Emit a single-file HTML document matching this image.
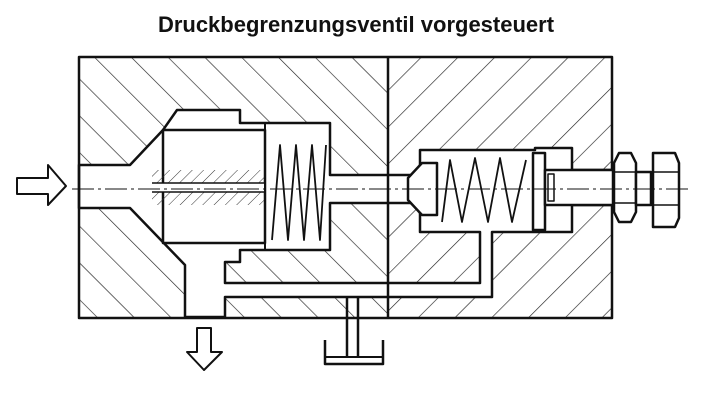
<!DOCTYPE html>
<html><head><meta charset="utf-8"><style>
body{margin:0;background:#fff;width:712px;height:404px;overflow:hidden}
.t{position:absolute;left:0;top:12px;width:712px;text-align:center;font:bold 22px "Liberation Sans",sans-serif;color:#111}
</style></head><body>
<div class="t">Druckbegrenzungsventil vorgesteuert</div>
<svg width="712" height="404" style="position:absolute;left:0;top:0">
<defs>
<pattern id="hl" width="26" height="26" patternUnits="userSpaceOnUse" patternTransform="rotate(-45)"><line x1="0" y1="0" x2="0" y2="26" stroke="#222" stroke-width="1.3"/></pattern>
<pattern id="hr" width="26" height="26" patternUnits="userSpaceOnUse" patternTransform="rotate(45)"><line x1="0" y1="0" x2="0" y2="26" stroke="#222" stroke-width="1.3"/></pattern>
<pattern id="hs" width="8" height="8" patternUnits="userSpaceOnUse" patternTransform="rotate(45)"><line x1="0" y1="0" x2="0" y2="8" stroke="#333" stroke-width="1"/></pattern>
</defs>
<g stroke="#111" stroke-width="2.5" fill="none" stroke-linejoin="round">
<rect x="79" y="57" width="309" height="260" fill="url(#hl)" stroke="none"/>
<rect x="388" y="57" width="224" height="261" fill="url(#hr)" stroke="none"/>
<path d="M79,165 L130,165 L163,130 L177,110 L240,110 L240,123 L330,123 L330,175 L412,175 L412,203 L330,203 L330,250 L240,250 L240,262 L225,262 L225,283 L480,283 L480,232 L420,232 L420,150 L535,150 L535,148 L572,148 L572,170 L612,170 L612,205 L572,205 L572,232 L492,232 L492,297 L225,297 L225,317 L185,317 L185,265 L130,208 L79,208 Z" fill="#fff"/>
<rect x="79" y="57" width="533" height="261"/>
<line x1="388" y1="57" x2="388" y2="318"/>
<rect x="163" y="130" width="102" height="113" fill="#fff"/>
<rect x="152" y="170" width="113" height="35" fill="url(#hs)" stroke="none"/>
<rect x="150" y="183" width="116" height="9" fill="#fff" stroke="none"/>
<line x1="152" y1="183" x2="265" y2="183" stroke-width="1.5"/>
<line x1="152" y1="192" x2="265" y2="192" stroke-width="1.5"/>
<line x1="265" y1="123" x2="265" y2="250" stroke-width="2"/>
<path d="M272,240 L280,145 L288,240 L296,145 L304,240 L312,145 L320,240 L326,145" stroke-width="1.8"/>
<path d="M442,222 L450,160 L462,222 L475,158 L488,222 L500,158 L512,222 L526,160" stroke-width="1.8"/>
<path d="M408,178 L422,163 L437,163 L437,215 L422,215 L408,200 Z" fill="#fff"/>
<rect x="533" y="153" width="12" height="77" fill="#fff"/>
<rect x="545" y="170" width="68" height="35" fill="#fff"/>
<rect x="548" y="174" width="6" height="27" stroke-width="1.5"/>
<path d="M619,153 L631,153 L636,163 L636,212 L631,222 L619,222 L614,212 L614,163 Z" fill="#fff"/>
<line x1="614" y1="172" x2="636" y2="172" stroke-width="1.5"/><line x1="614" y1="203" x2="636" y2="203" stroke-width="1.5"/>
<rect x="636" y="172" width="15" height="33" fill="#fff"/>
<path d="M653,153 L675,153 L679,163 L679,218 L675,227 L653,227 Z" fill="#fff"/>
<line x1="653" y1="172" x2="679" y2="172" stroke-width="1.5"/><line x1="653" y1="205" x2="679" y2="205" stroke-width="1.5"/>
<line x1="347" y1="298" x2="347" y2="356"/><line x1="358" y1="298" x2="358" y2="356"/>
<path d="M325,340 L325,364 L383,364 L383,340"/>
<path d="M326,357 L382,357" stroke-width="2"/>
<path d="M17,178 L48,178 L48,165 L66,186 L48,205 L48,194 L17,194 Z" fill="#fff" stroke-width="2"/>
<path d="M197,328 L211,328 L211,352 L222,352 L204,370 L187,352 L197,352 Z" fill="#fff" stroke-width="2"/>
<line x1="72" y1="189" x2="690" y2="189" stroke-width="1" stroke-dasharray="22,4,3,4"/>
</g>
</svg>
</body></html>
